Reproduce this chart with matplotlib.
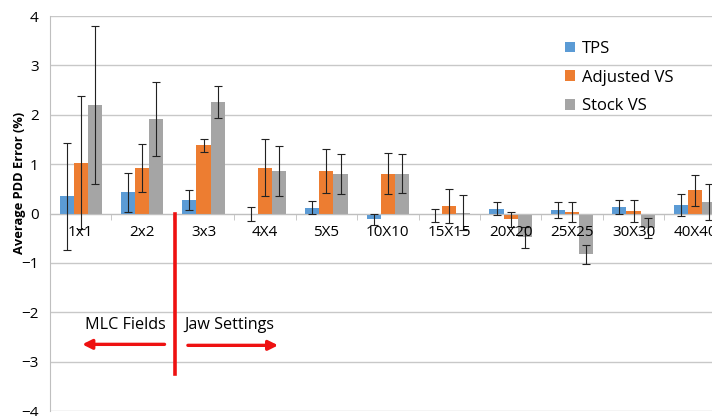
import numpy as np
import matplotlib.pyplot as plt

plt.rcParams['font.family'] = ['Open Sans', 'DejaVu Sans']

categories = ['1x1', '2x2', '3x3', '4X4', '5X5', '10X10', '15X15', '20X20', '25X25', '30X30', '40X40']

tps = [0.35, 0.43, 0.28, -0.01, 0.12, -0.12, -0.04, 0.10, 0.07, 0.13, 0.17]
tps_err = [1.08, 0.39, 0.20, 0.15, 0.14, 0.11, 0.14, 0.14, 0.16, 0.15, 0.23]

adjusted = [1.03, 0.92, 1.38, 0.93, 0.86, 0.81, 0.15, -0.12, 0.03, 0.05, 0.47]
adjusted_err = [1.35, 0.49, 0.13, 0.58, 0.45, 0.41, 0.35, 0.15, 0.21, 0.22, 0.31]

stock = [2.20, 1.91, 2.26, 0.86, 0.80, 0.81, 0.02, -0.48, -0.83, -0.30, 0.23]
stock_err = [1.60, 0.75, 0.32, 0.50, 0.41, 0.40, 0.35, 0.21, 0.20, 0.20, 0.37]

series = [
    ('TPS', tps, tps_err, '#5B9BD5'),
    ('Adjusted VS', adjusted, adjusted_err, '#ED7D31'),
    ('Stock VS', stock, stock_err, '#A5A5A5'),
]

fig = plt.figure(figsize=(7.12, 4.16), dpi=100)
ax = fig.add_axes([0.0702, 0.012, 0.949, 0.9495])

x = np.arange(len(categories))
w = 0.23
for i, (name, vals, errs, col) in enumerate(series):
    ax.bar(x + (i - 1) * w, vals, w, color=col, label=name, zorder=2)
    ax.errorbar(x + (i - 1) * w, vals, yerr=errs, fmt='none', ecolor='#222222',
                elinewidth=0.8, capsize=3, capthick=0.8, zorder=3)

ax.set_xlim(-0.5, 10.5)
ax.set_ylim(-4, 4)
ax.set_yticks(range(-4, 5))
ax.tick_params(axis='y', length=0, labelsize=11, pad=8)
ax.yaxis.grid(True, color='#C8C8C8', linewidth=1)
ax.set_axisbelow(True)

ax.spines['top'].set_visible(False)
ax.spines['right'].set_visible(False)
ax.spines['left'].set_color('#BFBFBF')
ax.spines['bottom'].set_position(('data', 0))
ax.spines['bottom'].set_color('#BFBFBF')

ax.set_xticks(x)
ax.set_xticklabels([])
ax.set_xticks(np.arange(-0.5, 10.6, 1), minor=True)
ax.tick_params(axis='x', which='major', length=0)
ax.tick_params(axis='x', which='minor', length=4, color='#BFBFBF')

# category labels sit under the zero line, drawn over the bars
for xi, cat in zip(x, categories):
    ax.annotate(cat, xy=(xi, 0), xytext=(0, -13.7), textcoords='offset points',
                ha='center', va='center', fontsize=11, zorder=5)

ax.set_ylabel('Average PDD Error (%)', fontsize=9.3, fontweight='bold')
ax.yaxis.set_label_coords(-0.036, 0.577)

# divider between MLC fields and jaw settings
ax.plot([1.54, 1.54], [0, -3.26], color='#EE1111', linewidth=2.6, zorder=4)
ax.annotate('', xy=(-0.02, -2.65), xytext=(1.41, -2.65),
            arrowprops=dict(arrowstyle='-|>', color='#EE1111', lw=2.4,
                            mutation_scale=14))
ax.annotate('', xy=(3.26, -2.67), xytext=(1.70, -2.67),
            arrowprops=dict(arrowstyle='-|>', color='#EE1111', lw=2.4,
                            mutation_scale=14))
ax.text(0.73, -2.25, 'MLC Fields', ha='center', va='center', fontsize=11.6)
ax.text(1.68, -2.25, 'Jaw Settings', ha='left', va='center', fontsize=11.6)

ax.legend(loc='upper left', bbox_to_anchor=(0.740, 0.975), frameon=False,
          fontsize=12, handlelength=0.6, handleheight=0.6, handletextpad=0.4,
          labelspacing=0.76)

fig.savefig('out.png', dpi=100)
